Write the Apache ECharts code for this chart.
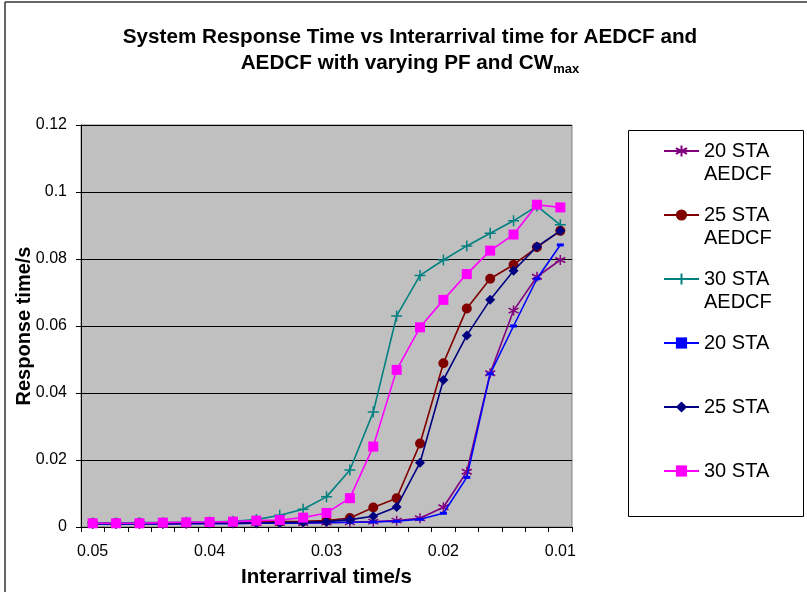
<!DOCTYPE html>
<html>
<head>
<meta charset="utf-8">
<script src="https://cdn.jsdelivr.net/npm/echarts@6/dist/echarts.min.js"></script>
<style>html,body{margin:0;padding:0;background:#fff;}#main{width:807px;height:592px;}</style>
</head>
<body>
<div id="main"></div>
<script>
const categories = ['0.05','0.048','0.046','0.044','0.042','0.04','0.038','0.036','0.034','0.032','0.03','0.028','0.026','0.024','0.022','0.02','0.018','0.016','0.014','0.012','0.01'];
const yTicks = [0, 0.02, 0.04, 0.06, 0.08, 0.1, 0.12];
const seriesNames = ['20 STA AEDCF','25 STA AEDCF','30 STA AEDCF','20 STA','25 STA','30 STA'];
const sta20Aedcf = [0.0010,0.0010,0.0010,0.0010,0.0010,0.0011,0.0011,0.0011,0.0012,0.0012,0.0013,0.0014,0.0016,0.0019,0.0026,0.0059,0.0165,0.0459,0.0646,0.0747,0.0797];
const sta25Aedcf = [0.0012,0.0012,0.0012,0.0012,0.0013,0.0013,0.0014,0.0015,0.0016,0.0017,0.0019,0.0027,0.0058,0.0086,0.0249,0.0489,0.0652,0.0741,0.0783,0.0835,0.0884];
const sta30Aedcf = [0.0012,0.0012,0.0013,0.0013,0.0014,0.0015,0.0017,0.0022,0.0035,0.0053,0.0090,0.0170,0.0343,0.0630,0.0751,0.0797,0.0839,0.0877,0.0914,0.0958,0.0902];
const sta20 = [0.0009,0.0009,0.0009,0.0009,0.0010,0.0010,0.0010,0.0011,0.0011,0.0012,0.0013,0.0014,0.0015,0.0017,0.0023,0.0041,0.0148,0.0457,0.0600,0.0741,0.0842];
const sta25 = [0.0010,0.0010,0.0010,0.0010,0.0011,0.0011,0.0011,0.0012,0.0013,0.0014,0.0016,0.0022,0.0032,0.0060,0.0192,0.0439,0.0572,0.0678,0.0765,0.0837,0.0884];
const sta30 = [0.0011,0.0011,0.0011,0.0013,0.0014,0.0015,0.0016,0.0019,0.0021,0.0028,0.0042,0.0086,0.0240,0.0469,0.0596,0.0678,0.0755,0.0825,0.0873,0.0962,0.0954];

const FONT = '"Liberation Sans", Arial, sans-serif';
const chart = echarts.init(document.getElementById('main'), null, {renderer: 'canvas'});

const ASTER = 'path://M5,0L5,10M0.67,2.5L9.33,7.5M9.33,2.5L0.67,7.5';
const PLUS = 'path://M5,0L5,10M0,5L10,5';

const styles = [
  {color: '#800080', symbol: ASTER, size: 10, stroke: true},
  {color: '#800000', symbol: 'circle', size: 10},
  {color: '#008080', symbol: PLUS, size: 11, stroke: true},
  {color: '#0000FF', symbol: 'rect', size: [7, 3]},
  {color: '#000080', symbol: 'diamond', size: 10},
  {color: '#FF00FF', symbol: 'rect', size: 10}
];
const dataSets = [sta20Aedcf, sta25Aedcf, sta30Aedcf, sta20, sta25, sta30];

const series = seriesNames.map((name, i) => {
  const s = styles[i];
  return {
    name: name,
    type: 'line',
    data: dataSets[i],
    symbol: s.symbol,
    symbolSize: s.size,
    showAllSymbol: true,
    animation: false,
    lineStyle: {color: s.color, width: 1.6},
    itemStyle: s.stroke ? {color: s.color, borderColor: s.color, borderWidth: 1.5} : {color: s.color, borderWidth: 0},
    z: 2 + i
  };
});

const legendIconY = [151, 215, 279, 343, 407, 471];
const legends = seriesNames.map((name, i) => {
  const twoLine = name.indexOf('AEDCF') > 0;
  return {
    data: [name],
    orient: 'vertical',
    left: 663,
    top: twoLine ? legendIconY[i] - 34.5 : legendIconY[i] - 11.5,
    padding: 0,
    itemWidth: 35,
    itemHeight: 14,
    itemGap: 0,
    selectedMode: false,
    formatter: n => twoLine ? '\n' + n.replace(' AEDCF', '\nAEDCF') : n,
    textStyle: {fontFamily: FONT, fontSize: 20, color: '#000', lineHeight: 23}
  };
});

chart.setOption({
  backgroundColor: '#fff',
  animation: false,
  legend: legends,
  grid: {
    left: 81, right: 235, top: 125, bottom: 65,
    containLabel: false, outerBoundsMode: 'none',
    show: true, backgroundColor: '#C0C0C0', borderColor: '#808080', borderWidth: 1
  },
  xAxis: {
    type: 'category',
    data: categories,
    boundaryGap: true,
    name: 'Interarrival time/s',
    nameLocation: 'middle',
    nameGap: 40,
    nameMoveOverlap: false,
    nameTextStyle: {fontFamily: FONT, fontSize: 20.5, fontWeight: 'bold', color: '#000'},
    axisLine: {lineStyle: {color: '#000', width: 1}},
    axisTick: {show: true, interval: 0, length: 5, lineStyle: {color: '#000'}},
    axisLabel: {interval: 4, fontFamily: FONT, fontSize: 16, color: '#000', margin: 17},
    splitLine: {show: false}
  },
  yAxis: {
    type: 'value',
    min: yTicks[0],
    max: yTicks[yTicks.length - 1],
    interval: 0.02,
    name: 'Response time/s',
    nameLocation: 'middle',
    nameGap: 47,
    nameMoveOverlap: false,
    nameTextStyle: {fontFamily: FONT, fontSize: 20, fontWeight: 'bold', color: '#000'},
    axisLine: {show: true, lineStyle: {color: '#000', width: 1}},
    axisTick: {show: true, length: 5, lineStyle: {color: '#000'}},
    axisLabel: {fontFamily: FONT, fontSize: 16, color: '#000', margin: 14,
      formatter: v => String(Math.round(v * 100) / 100)},
    splitLine: {show: true, lineStyle: {color: '#000', width: 1}}
  },
  graphic: [
    {type: 'line', shape: {x1: 5, y1: 2, x2: 5, y2: 592}, style: {stroke: '#333', lineWidth: 1.5}, z: 100},
    {type: 'line', shape: {x1: 5, y1: 2, x2: 807, y2: 2}, style: {stroke: '#333', lineWidth: 1.5}, z: 100},
    {type: 'rect', shape: {x: 628.5, y: 130.5, width: 175, height: 386}, style: {fill: '#fff', stroke: '#000', lineWidth: 1}, z: -1},
    {
      type: 'text', x: 410, y: 24, z: 100,
      style: {
        text: 'System Response Time vs Interarrival time for AEDCF and\nAEDCF with varying PF and CW{sub|max}',
        align: 'center', verticalAlign: 'top',
        font: 'bold 20.7px ' + FONT, fill: '#000', lineHeight: 26,
        rich: {
          sub: {font: 'bold 13px ' + FONT, fill: '#000', verticalAlign: 'bottom', lineHeight: 14}
        }
      }
    }
  ],
  series: series
});
</script>
</body>
</html>
